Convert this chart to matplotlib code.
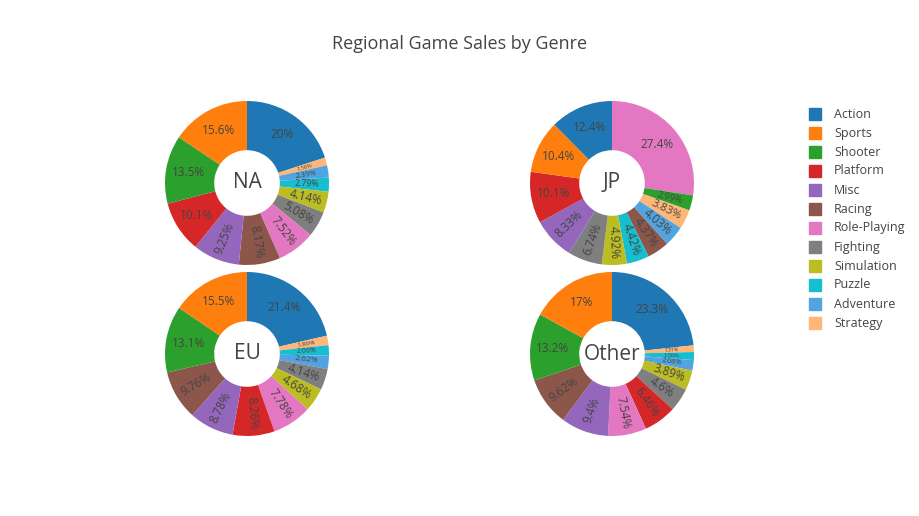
import numpy as np
import matplotlib.pyplot as plt
from matplotlib.patches import Rectangle

plt.rcParams["font.family"] = ["Open Sans", "DejaVu Sans"]

# 類別與顏色
genres = ["Action", "Sports", "Shooter", "Platform", "Misc", "Racing",
          "Role-Playing", "Fighting", "Simulation", "Puzzle", "Adventure", "Strategy"]
colors = ["#1f77b4", "#ff7f0e", "#2ca02c", "#d62728", "#9467bd", "#8c564b",
          "#e377c2", "#7f7f7f", "#bcbd22", "#17becf", "#52a4e0", "#ffb678"]

# 各地區資料（順時針自 12 點鐘方向）
na_order = ["Action", "Strategy", "Adventure", "Puzzle", "Simulation", "Fighting",
            "Role-Playing", "Racing", "Misc", "Platform", "Shooter", "Sports"]
na_pct = [20, 1.56, 2.39, 2.79, 4.14, 5.08, 7.52, 8.17, 9.25, 10.1, 13.5, 15.6]

jp_order = ["Role-Playing", "Shooter", "Strategy", "Adventure", "Racing", "Puzzle",
            "Simulation", "Fighting", "Misc", "Platform", "Sports", "Action"]
jp_pct = [27.4, 2.99, 3.83, 4.03, 4.37, 4.42, 4.92, 6.74, 8.33, 10.1, 10.4, 12.4]

eu_order = ["Action", "Strategy", "Puzzle", "Adventure", "Fighting", "Simulation",
            "Role-Playing", "Platform", "Misc", "Racing", "Shooter", "Sports"]
eu_pct = [21.4, 1.86, 2.06, 2.62, 4.14, 4.68, 7.78, 8.26, 8.78, 9.76, 13.1, 15.5]

other_order = ["Action", "Strategy", "Puzzle", "Adventure", "Simulation", "Fighting",
               "Platform", "Role-Playing", "Misc", "Racing", "Shooter", "Sports"]
other_pct = [23.3, 1.31, 1.56, 2.08, 3.89, 4.6, 6.46, 7.54, 9.4, 9.62, 13.2, 17]

W, H = 920, 516
fig = plt.figure(figsize=(W / 100, H / 100), dpi=100)

R = 82
HOLE = 0.4


def draw_donut(cx, cy, name, order, pct):
    ax = fig.add_axes([(cx - R) / W, 1 - (cy + R) / H, 2 * R / W, 2 * R / H])
    cmap = dict(zip(genres, colors))
    ax.pie(pct, colors=[cmap[g] for g in order], startangle=90, counterclock=False,
           radius=1, wedgeprops=dict(width=1 - HOLE, linewidth=0))
    total = sum(pct)
    start = 90.0
    for p in pct:
        span = 360 * p / total
        mid = start - span / 2
        start -= span
        th = np.deg2rad(mid)
        r = (HOLE + 1) / 2 + 0.03
        x, y = r * np.cos(th), r * np.sin(th)
        label = f"{p:g}%"
        if p >= 10:
            rot = 0
            size = 8.5
        else:
            rot = mid
            while rot > 90:
                rot -= 180
            while rot < -90:
                rot += 180
            size = min(8.5, 1.3 + 1.8 * p)
        ax.text(x, y, label, ha="center", va="center", rotation=rot,
                rotation_mode="anchor", fontsize=size, color="#444444")
    ax.text(0, 0, name, ha="center", va="center", fontsize=15, color="#444444")
    ax.set_xlim(-1, 1)
    ax.set_ylim(-1, 1)
    ax.set_aspect("equal")
    ax.axis("off")


draw_donut(247, 183, "NA", na_order, na_pct)
draw_donut(612, 183, "JP", jp_order, jp_pct)
draw_donut(247, 354, "EU", eu_order, eu_pct)
draw_donut(612, 354, "Other", other_order, other_pct)

fig.text(460 / W, 1 - 44 / H, "Regional Game Sales by Genre", ha="center",
         va="center", fontsize=13, color="#444444")

# 圖例
for i, (g, c) in enumerate(zip(genres, colors)):
    y = 114 + i * 19
    fig.patches.append(Rectangle(((809) / W, 1 - (y + 6) / H), 12 / W, 12 / H,
                                 transform=fig.transFigure, color=c))
    fig.text(834 / W, 1 - y / H, g, ha="left", va="center", fontsize=9,
             color="#444444")

fig.savefig("out.png", dpi=100)
